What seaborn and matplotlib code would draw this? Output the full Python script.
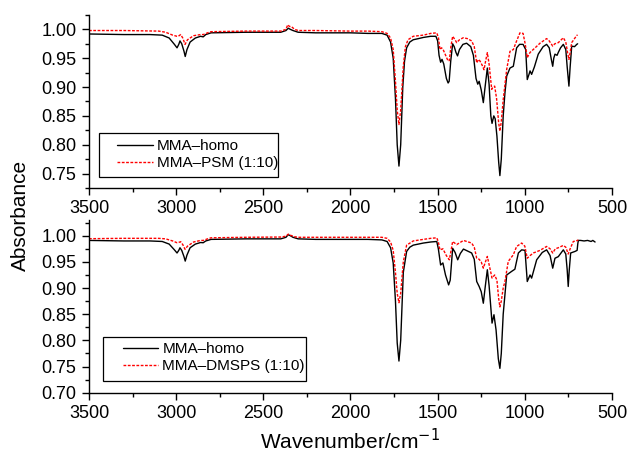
import matplotlib
matplotlib.use("Agg")
import matplotlib.pyplot as plt
from matplotlib.ticker import MultipleLocator, FormatStrFormatter
from matplotlib.lines import Line2D
from matplotlib.patches import Rectangle
import seaborn as sns
import pandas as pd

# FTIR spectra (wavenumber in cm^-1, absorbance)
# Upper panel: MMA homopolymer vs MMA-PSM (1:10)
wn_homo_a = [3500, 3300, 3150, 3080, 3040, 3010, 2995, 2985, 2978, 2968, 2955, 2948, 2938, 2920,
             2890, 2860, 2845, 2830, 2800, 2600, 2400, 2370, 2357, 2345, 2330, 2300, 2200, 2100,
             2000, 1900, 1820, 1790, 1770, 1755, 1742, 1732, 1722, 1712, 1700, 1690, 1678, 1660,
             1640, 1610, 1582, 1540, 1510, 1500, 1492, 1483, 1475, 1465, 1450, 1440, 1434, 1425,
             1414, 1405, 1395, 1386, 1375, 1355, 1334, 1310, 1295, 1280, 1270, 1262, 1250, 1238,
             1228, 1215, 1205, 1195, 1188, 1178, 1170, 1160, 1150, 1143, 1135, 1124, 1114, 1104,
             1085, 1066, 1047, 1030, 1010, 995, 986, 976, 970, 961, 945, 923, 895, 875, 860, 848,
             840, 834, 827, 815, 808, 795, 779, 765, 757, 747, 740, 731, 715, 702, 697]
abs_homo_a = [0.992, 0.991, 0.991, 0.990, 0.985, 0.974, 0.968, 0.974, 0.980, 0.975, 0.962, 0.953,
              0.965, 0.978, 0.985, 0.988, 0.987, 0.991, 0.994, 0.995, 0.995, 0.998, 1.002, 1.000,
              0.998, 0.995, 0.994, 0.994, 0.994, 0.993, 0.993, 0.990, 0.978, 0.950, 0.880, 0.800,
              0.763, 0.800, 0.900, 0.945, 0.968, 0.978, 0.982, 0.984, 0.986, 0.988, 0.988, 0.980,
              0.955, 0.943, 0.948, 0.940, 0.915, 0.907, 0.910, 0.945, 0.975, 0.970, 0.960, 0.954,
              0.965, 0.974, 0.976, 0.970, 0.955, 0.915, 0.905, 0.910, 0.895, 0.873, 0.900, 0.933,
              0.905, 0.850, 0.837, 0.850, 0.845, 0.815, 0.770, 0.7465, 0.775, 0.850, 0.890, 0.919,
              0.933, 0.936, 0.968, 0.974, 0.974, 0.965, 0.913, 0.922, 0.928, 0.922, 0.935, 0.957,
              0.970, 0.974, 0.968, 0.948, 0.936, 0.950, 0.957, 0.955, 0.960, 0.968, 0.974, 0.965,
              0.935, 0.9016, 0.935, 0.971, 0.970, 0.974, 0.975]

wn_psm = [3500, 3300, 3100, 3060, 3020, 2995, 2988, 2974, 2962, 2949, 2935, 2900, 2860, 2844,
          2820, 2800, 2600, 2400, 2370, 2360, 2350, 2340, 2320, 2300, 2200, 2000, 1900, 1820,
          1790, 1770, 1755, 1742, 1732, 1722, 1712, 1697, 1685, 1670, 1640, 1582, 1540, 1505,
          1495, 1487, 1478, 1470, 1450, 1440, 1433, 1424, 1414, 1400, 1391, 1375, 1353, 1330,
          1305, 1290, 1276, 1265, 1257, 1245, 1234, 1225, 1215, 1205, 1190, 1182, 1173, 1162,
          1150, 1143, 1135, 1124, 1104, 1085, 1066, 1047, 1028, 1010, 998, 986, 970, 941, 913,
          875, 860, 840, 828, 808, 779, 765, 755, 747, 740, 731, 715, 702, 697]
abs_psm = [0.998, 0.998, 0.997, 0.995, 0.990, 0.988, 0.988, 0.991, 0.985, 0.974, 0.982, 0.989,
           0.991, 0.991, 0.994, 0.996, 0.997, 0.997, 1.000, 1.008, 1.005, 1.005, 1.000, 0.998,
           0.998, 0.997, 0.997, 0.996, 0.993, 0.985, 0.965, 0.910, 0.860, 0.835, 0.860, 0.936,
           0.970, 0.982, 0.988, 0.990, 0.993, 0.994, 0.985, 0.965, 0.968, 0.966, 0.952, 0.945,
           0.946, 0.970, 0.988, 0.982, 0.977, 0.982, 0.9855, 0.984, 0.980, 0.970, 0.942, 0.948,
           0.945, 0.938, 0.930, 0.945, 0.9595, 0.940, 0.896, 0.900, 0.9016, 0.880, 0.838, 0.8235,
           0.840, 0.878, 0.9306, 0.962, 0.965, 0.980, 0.994, 0.993, 0.975, 0.951, 0.960, 0.968,
           0.976, 0.984, 0.980, 0.971, 0.975, 0.977, 0.9855, 0.978, 0.960, 0.948, 0.960, 0.977,
           0.984, 0.9896, 0.990]

# Lower panel: MMA homopolymer vs MMA-DMSPS (1:10)
wn_homo_b = [3500, 3300, 3150, 3080, 3040, 3010, 2995, 2985, 2978, 2968, 2955, 2948, 2938, 2920,
             2890, 2860, 2845, 2830, 2800, 2600, 2400, 2370, 2357, 2345, 2330, 2300, 2200, 2100,
             2000, 1900, 1820, 1790, 1770, 1755, 1742, 1732, 1722, 1712, 1697, 1678, 1660, 1640,
             1582, 1540, 1505, 1496, 1483, 1470, 1455, 1437, 1428, 1414, 1400, 1385, 1370, 1352,
             1305, 1290, 1276, 1262, 1250, 1238, 1228, 1215, 1205, 1188, 1177, 1165, 1152, 1143,
             1135, 1124, 1104, 1075, 1057, 1037, 1018, 999, 986, 970, 961, 932, 900, 875, 855,
             840, 827, 808, 779, 765, 757, 751, 745, 737, 712, 700, 696, 693, 680, 660, 640, 620,
             610, 597]
abs_homo_b = [0.991, 0.990, 0.990, 0.989, 0.984, 0.973, 0.967, 0.972, 0.977, 0.972, 0.960, 0.9515,
              0.963, 0.977, 0.984, 0.987, 0.9866, 0.990, 0.993, 0.994, 0.994, 0.997, 1.002, 1.000,
              0.997, 0.994, 0.993, 0.993, 0.993, 0.993, 0.992, 0.989, 0.977, 0.948, 0.875, 0.795,
              0.7605, 0.800, 0.930, 0.970, 0.978, 0.982, 0.986, 0.988, 0.989, 0.975, 0.944, 0.948,
              0.925, 0.906, 0.915, 0.976, 0.968, 0.954, 0.966, 0.9745, 0.967, 0.955, 0.9125, 0.903,
              0.893, 0.871, 0.900, 0.935, 0.905, 0.833, 0.849, 0.820, 0.765, 0.7465, 0.775, 0.850,
              0.925, 0.932, 0.936, 0.967, 0.973, 0.972, 0.9125, 0.925, 0.919, 0.954, 0.968, 0.973,
              0.962, 0.938, 0.957, 0.960, 0.973, 0.965, 0.935, 0.903, 0.935, 0.967, 0.970, 0.972,
              0.985, 0.991, 0.991, 0.990, 0.991, 0.989, 0.991, 0.988]

wn_dmsps = [3500, 3300, 3100, 3060, 3020, 2995, 2988, 2974, 2962, 2949, 2935, 2900, 2860, 2845,
            2820, 2800, 2600, 2400, 2370, 2357, 2345, 2320, 2300, 2200, 2000, 1900, 1820, 1790,
            1770, 1755, 1742, 1732, 1722, 1712, 1697, 1678, 1640, 1582, 1540, 1505, 1496, 1487,
            1470, 1450, 1433, 1424, 1414, 1391, 1352, 1305, 1290, 1276, 1262, 1250, 1238, 1228,
            1215, 1205, 1188, 1173, 1160, 1150, 1143, 1135, 1124, 1114, 1095, 1066, 1047, 1018,
            1000, 986, 970, 951, 913, 875, 855, 840, 825, 808, 779, 765, 751, 740, 722, 705, 693]
abs_dmsps = [0.9943, 0.995, 0.995, 0.994, 0.990, 0.9866, 0.987, 0.9885, 0.983, 0.974, 0.980, 0.988,
             0.991, 0.991, 0.994, 0.996, 0.997, 0.9975, 0.999, 1.003, 1.001, 0.998, 0.997, 0.997,
             0.997, 0.997, 0.997, 0.995, 0.988, 0.972, 0.930, 0.890, 0.872, 0.890, 0.950, 0.982,
             0.990, 0.993, 0.995, 0.996, 0.988, 0.973, 0.975, 0.962, 0.954, 0.970, 0.989, 0.983,
             0.991, 0.986, 0.978, 0.957, 0.955, 0.950, 0.938, 0.948, 0.9604, 0.945, 0.919, 0.925,
             0.915, 0.880, 0.864, 0.875, 0.900, 0.9125, 0.951, 0.9636, 0.9795, 0.986, 0.980, 0.957,
             0.962, 0.967, 0.972, 0.9795, 0.975, 0.967, 0.975, 0.977, 0.9815, 0.978, 0.965, 0.975,
             0.989, 0.990, 0.992]

x_ticks = [3500, 3000, 2500, 2000, 1500, 1000, 500]
labels_top = ["MMA\u2013homo", "MMA\u2013PSM (1:10)"]
labels_bot = ["MMA\u2013homo", "MMA\u2013DMSPS (1:10)"]

sns.set_theme(style="ticks")
plt.rcParams["font.family"] = ["Liberation Sans", "DejaVu Sans"]
plt.rcParams.update({"text.color": "black", "axes.labelcolor": "black",
                     "xtick.color": "black", "ytick.color": "black",
                     "axes.edgecolor": "black"})

fig = plt.figure(figsize=(6.28, 4.53), dpi=100)
ax_top = fig.add_axes([0.1417, 0.585, 0.8328, 0.382])
ax_bot = fig.add_axes([0.1417, 0.1331, 0.8328, 0.3812])

red = "#ff0000"
dash = (0, (2.0, 1.1))


def draw_panel(ax, wn1, a1, wn2, a2):
    d1 = pd.DataFrame({"wn": wn1, "A": a1})
    d2 = pd.DataFrame({"wn": wn2, "A": a2})
    sns.lineplot(data=d1, x="wn", y="A", ax=ax, color="black", lw=1.0,
                 estimator=None, sort=False)
    sns.lineplot(data=d2, x="wn", y="A", ax=ax, color=red, lw=1.0,
                 estimator=None, sort=False, linestyle=dash)
    ax.set_xlim(3500, 500)
    ax.set_xticks(x_ticks)
    ax.xaxis.set_minor_locator(MultipleLocator(250))
    ax.yaxis.set_major_locator(MultipleLocator(0.05))
    ax.yaxis.set_minor_locator(MultipleLocator(0.025))
    ax.yaxis.set_major_formatter(FormatStrFormatter("%.2f"))
    ax.set_xlabel("")
    ax.set_ylabel("")
    for s in ("top", "right"):
        ax.spines[s].set_visible(False)
    for s in ("left", "bottom"):
        ax.spines[s].set_linewidth(1.0)
        ax.spines[s].set_color("black")
    ax.tick_params(which="major", direction="out", length=5, width=1.0,
                   labelsize=13, pad=4, colors="black")
    ax.tick_params(which="minor", direction="out", length=3, width=1.0, colors="black")
    return [Line2D([], [], color="black", lw=1.0),
            Line2D([], [], color=red, lw=1.0, linestyle=dash)]


def add_legend(ax, handles, labels, frame, anchor, hlen):
    # boxed legend in the Origin style: thin black frame with a wide left margin
    ax.add_patch(Rectangle(frame[:2], frame[2], frame[3], transform=ax.transAxes,
                           facecolor="white", edgecolor="black", lw=0.9, zorder=4))
    leg = ax.legend(handles, labels, loc="center left", bbox_to_anchor=anchor,
                    fontsize=11, frameon=False, handlelength=hlen, handletextpad=0.26,
                    borderpad=0, labelspacing=0.2, borderaxespad=0)
    leg.set_zorder(5)


h = draw_panel(ax_top, wn_homo_a, abs_homo_a, wn_psm, abs_psm)
ax_top.set_ylim(0.725, 1.025)
add_legend(ax_top, h, labels_top, (0.0197, 0.0653, 0.3411, 0.2507), (0.053, 0.1925), 2.36)

h = draw_panel(ax_bot, wn_homo_b, abs_homo_b, wn_dmsps, abs_dmsps)
ax_bot.set_ylim(0.70, 1.03)
add_legend(ax_bot, h, labels_bot, (0.0273, 0.0677, 0.3877, 0.2563), (0.0656, 0.204), 2.29)

ax_bot.set_xlabel("Wavenumber/cm$^{-1}$", fontsize=15, labelpad=4)
fig.text(0.032, 0.525, "Absorbance", rotation=90, fontsize=15, ha="center", va="center")

fig.savefig("out.png", dpi=100)
